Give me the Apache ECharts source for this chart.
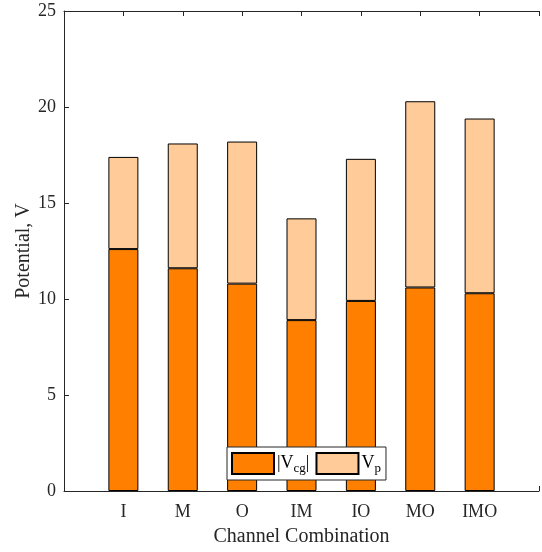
<!DOCTYPE html>
<html>
<head>
<meta charset="utf-8">
<script src="https://cdn.jsdelivr.net/npm/echarts@6/dist/echarts.min.js"></script>
<style>html,body{margin:0;padding:0;background:#fff}#c{width:542px;height:552px}</style>
</head>
<body>
<div id="c"></div>
<script>
const categories = ['I', 'M', 'O', 'IM', 'IO', 'MO', 'IMO'];
const vcg = [12.6, 11.6, 10.8, 8.9, 9.9, 10.6, 10.3];
const vp = [4.8, 6.5, 7.4, 5.3, 7.4, 9.7, 9.1];
const yTicks = [0, 5, 10, 15, 20, 25];

const FONT = 'Liberation Serif';
const AX = '#262626';
// padded slots so the axis runs from position 0 to 8 (one empty slot each side)
const slots = [''].concat(categories, ['']);
const pad = arr => [null].concat(arr, [null]);
const chart = echarts.init(document.getElementById('c'));
const xBase = {
  type: 'category', data: slots, boundaryGap: false,
  axisLine: { show: true, lineStyle: { color: AX, width: 1 } },
  axisTick: { show: true, inside: true, length: 5, interval: 0, lineStyle: { color: AX } },
  splitLine: { show: false }
};
chart.setOption({
  animation: false,
  grid: { left: 64, top: 11, width: 483, height: 483 },
  legend: {
    left: 227, top: 447,
    orient: 'horizontal',
    itemWidth: 42, itemHeight: 21, itemGap: 6,
    padding: [5, 5, 5, 4],
    backgroundColor: '#fff',
    borderColor: AX, borderWidth: 1, borderRadius: 0,
    icon: 'rect',
    data: ['Vcg', 'Vp'],
    formatter: n => n === 'Vcg' ? '|V{s|cg}|' : 'V{s|p}',
    textStyle: {
      fontFamily: FONT, fontSize: 18, color: '#000', padding: [0, 0, 0, -2],
      rich: { s: { fontFamily: FONT, fontSize: 13, color: '#000', padding: [10, 0, 0, 0] } }
    }
  },
  xAxis: [
    Object.assign({}, xBase, {
      position: 'bottom',
      name: 'Channel Combination', nameLocation: 'middle', nameGap: 36, nameMoveOverlap: false,
      nameTextStyle: { fontFamily: FONT, fontSize: 20, color: '#262626' },
      axisLabel: { interval: 0, margin: 12, fontFamily: FONT, fontSize: 18, color: '#262626' }
    }),
    Object.assign({}, xBase, { position: 'top', axisLabel: { show: false } })
  ],
  yAxis: [{
    type: 'value', min: yTicks[0], max: yTicks[yTicks.length - 1], interval: 5,
    name: 'Potential, V', nameLocation: 'middle', nameGap: 30, nameMoveOverlap: false,
    nameTextStyle: { fontFamily: FONT, fontSize: 20, color: '#262626' },
    axisLine: { show: true, lineStyle: { color: AX } },
    axisTick: { show: true, inside: true, length: 5, lineStyle: { color: AX } },
    axisLabel: { fontFamily: FONT, fontSize: 18, color: '#262626', margin: 8 },
    splitLine: { show: false }
  }],
  series: [
    {
      name: 'Vcg', type: 'bar', stack: 'a', barWidth: 30,
      itemStyle: { color: '#FF8000', borderColor: '#000', borderWidth: 1 },
      data: pad(vcg)
    },
    {
      name: 'Vp', type: 'bar', stack: 'a', barWidth: 30,
      itemStyle: { color: '#FFCC99', borderColor: '#000', borderWidth: 1 },
      data: pad(vp)
    }
  ]
});
</script>
</body>
</html>
